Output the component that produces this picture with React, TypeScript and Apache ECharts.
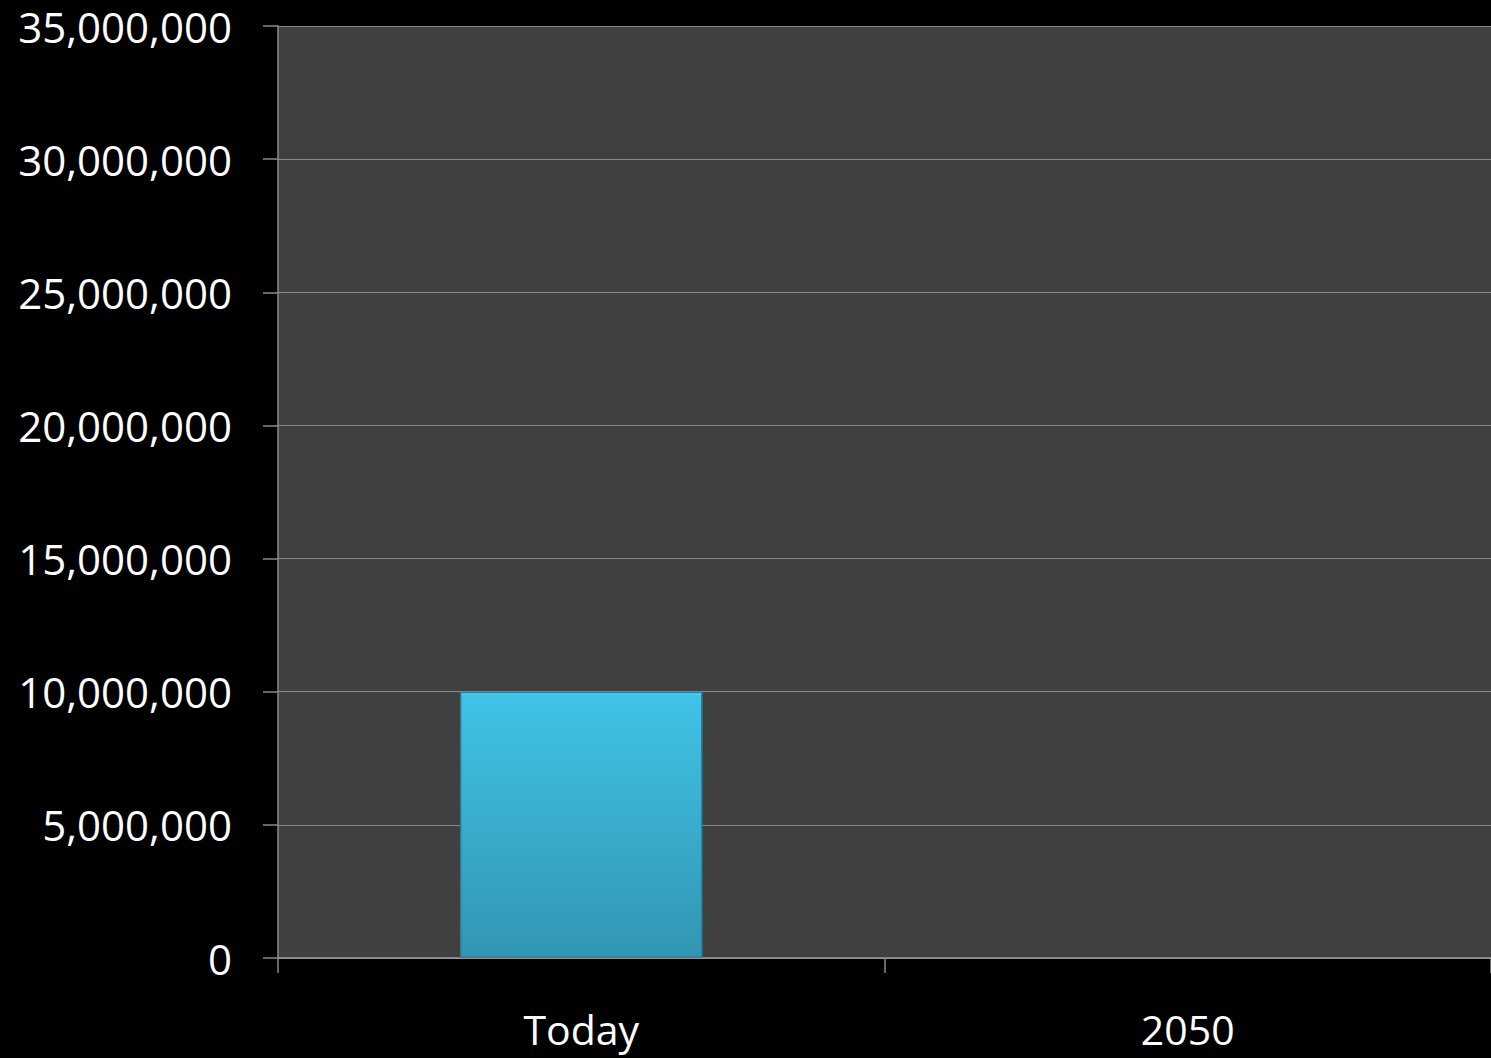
import React, { useEffect, useRef } from "react";
import * as echarts from "echarts";

const categories = ["Today", "2050"];
const values: (number | null)[] = [10000000, null];
const yMin = 0;
const yMax = 35000000;
const yInterval = 5000000;

export default function App() {
  const ref = useRef<HTMLDivElement>(null);
  useEffect(() => {
    document.body.style.margin = "0";
    document.body.style.background = "#000";
    const chart = echarts.init(ref.current!, undefined, { renderer: "svg" });
    chart.setOption({
      animation: false,
      backgroundColor: "#000000",
      grid: {
        left: 278,
        right: 0,
        top: 26,
        bottom: 100,
        show: true,
        backgroundColor: "#404040",
        borderWidth: 0,
      },
      xAxis: {
        type: "category",
        data: categories,
        axisLine: { show: true, lineStyle: { color: "#9a9a9a", width: 1.5 } },
        axisTick: { show: true, length: 15, lineStyle: { color: "#8a8a8a", width: 1.5 } },
        axisLabel: {
          color: "#ffffff",
          fontFamily: "Open Sans",
          fontSize: 41,
          lineHeight: 42,
          margin: 50,
        },
      },
      yAxis: {
        type: "value",
        min: yMin,
        max: yMax,
        interval: yInterval,
        axisLine: { show: true, lineStyle: { color: "#8a8a8a", width: 1.5 } },
        axisTick: { show: true, length: 15, lineStyle: { color: "#8a8a8a", width: 1.5 } },
        splitLine: { show: true, lineStyle: { color: "#8a8a8a", width: 1.2 } },
        axisLabel: {
          color: "#ffffff",
          fontFamily: "Open Sans",
          fontSize: 42,
          lineHeight: 44,
          margin: 46,
          formatter: (v: number) => v.toLocaleString("en-US"),
        },
      },
      series: [
        {
          type: "bar",
          data: values,
          barWidth: "40%",
          itemStyle: {
            color: new echarts.graphic.LinearGradient(0, 0, 0, 1, [
              { offset: 0, color: "#5ee2ff" },
              { offset: 0.012, color: "#40c2e6" },
              { offset: 1, color: "#3296b3" },
            ]),
            borderColor: "#2b7f98",
            borderWidth: 1.5,
          },
        },
      ],
    });
    return () => chart.dispose();
  }, []);
  return <div ref={ref} style={{ width: 1491, height: 1058 }} />;
}
